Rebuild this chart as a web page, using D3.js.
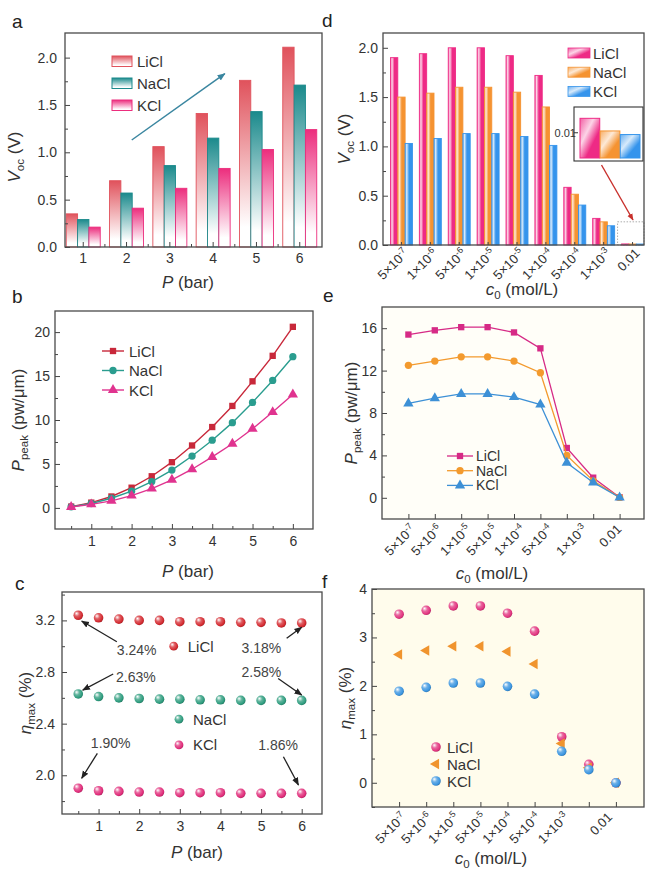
<!DOCTYPE html>
<html>
<head>
<meta charset="utf-8">
<script src="https://cdn.jsdelivr.net/npm/d3@7"></script>
<style>
  body { margin: 0; background: #fff; }
  text { font-family: "Liberation Sans", Arial, sans-serif; fill: #333; }
</style>
</head>
<body>
<svg id="fig"></svg>
<script>
// ================= DATA =================
const salts = ['LiCl', 'NaCl', 'KCl'];

// a: Voc vs pressure (bars)
const pressureBars = ['1', '2', '3', '4', '5', '6'];
const vocPressLiCl = [0.35, 0.70, 1.06, 1.41, 1.76, 2.11];
const vocPressNaCl = [0.29, 0.57, 0.86, 1.15, 1.43, 1.71];
const vocPressKCl  = [0.21, 0.41, 0.62, 0.83, 1.03, 1.24];

// b, c: pressure sweep
const pressures = [0.5, 1, 1.5, 2, 2.5, 3, 3.5, 4, 4.5, 5, 5.5, 6];
const peakPressLiCl = [0.15, 0.6, 1.3, 2.3, 3.6, 5.2, 7.1, 9.2, 11.6, 14.4, 17.3, 20.6];
const peakPressNaCl = [0.12, 0.5, 1.1, 1.9, 3.0, 4.3, 5.9, 7.7, 9.7, 12.0, 14.5, 17.2];
const peakPressKCl  = [0.10, 0.4, 0.8, 1.4, 2.2, 3.2, 4.4, 5.8, 7.3, 9.0, 10.9, 12.9];
const etaPressLiCl = [3.24, 3.22, 3.21, 3.20, 3.20, 3.19, 3.19, 3.19, 3.185, 3.185, 3.18, 3.18];
const etaPressNaCl = [2.63, 2.61, 2.60, 2.595, 2.59, 2.59, 2.585, 2.585, 2.58, 2.58, 2.58, 2.58];
const etaPressKCl  = [1.90, 1.88, 1.875, 1.87, 1.87, 1.865, 1.865, 1.865, 1.86, 1.86, 1.86, 1.86];

// d: Voc vs concentration (bars)
const concBars = ['5×10^-7', '1×10^-6', '5×10^-6', '1×10^-5', '5×10^-5', '1×10^-4', '5×10^-4', '1×10^-3', '0.01'];
const vocConcLiCl = [1.90, 1.94, 2.00, 2.00, 1.92, 1.72, 0.585, 0.27, 0.0108];
const vocConcNaCl = [1.50, 1.54, 1.60, 1.60, 1.55, 1.40, 0.515, 0.235, 0.0101];
const vocConcKCl  = [1.03, 1.08, 1.13, 1.13, 1.10, 1.01, 0.405, 0.195, 0.0099];

// e, f: concentration sweep (9 points, 8 tick labels as printed)
const concIndex = [0, 1, 2, 3, 4, 5, 6, 7, 8];
const concLabels = ['5×10^-7', '5×10^-6', '1×10^-5', '5×10^-5', '1×10^-4', '5×10^-4', '1×10^-3', '0.01'];
const concLabelAtE = [0, 1, 2.1, 3.1, 4.15, 5.2, 6.5, 7.8];
const concLabelAtF = [0, 0.95, 1.95, 2.95, 3.95, 4.95, 6, 7.6];
const peakConcLiCl = [15.4, 15.8, 16.1, 16.1, 15.6, 14.1, 4.7, 1.9, 0.05];
const peakConcNaCl = [12.5, 12.9, 13.3, 13.3, 12.9, 11.8, 4.0, 1.6, 0.04];
const peakConcKCl  = [8.9, 9.4, 9.8, 9.8, 9.5, 8.8, 3.3, 1.45, 0.03];
const etaConcLiCl = [3.48, 3.56, 3.65, 3.65, 3.50, 3.13, 0.95, 0.38, 0.0];
const etaConcNaCl = [2.65, 2.73, 2.82, 2.82, 2.71, 2.45, 0.81, 0.31, 0.0];
const etaConcKCl  = [1.89, 1.97, 2.06, 2.06, 1.99, 1.83, 0.65, 0.27, 0.0];

// ================= STYLE / LAYOUT =================
const colA = ['#e0525c', '#1b8a8c', '#ec2d7d'];
const colB = ['#c8283a', '#2a9d8f', '#e0338f'];
const colC = ['#d42a30', '#2e9c7e', '#e02c7a'];
const colD = ['#ee2a85', '#f59331', '#3594ec'];
const colE = ['#d62a86', '#f39a2e', '#3d90d6'];
const colF = ['#e2347f', '#f0942e', '#3b95e0'];

const boxA = {x0: 65, x1: 322, y0: 33, y1: 247};
const boxB = {x0: 55, x1: 313, y0: 311, y1: 529};
const boxC = {x0: 62, x1: 322, y0: 592, y1: 814};
const boxD = {x0: 383, x1: 644, y0: 33, y1: 245};
const boxE = {x0: 382, x1: 644, y0: 307, y1: 519};
const boxF = {x0: 372, x1: 644, y0: 589, y1: 807};

const svg = d3.select('#fig').attr('width', 645).attr('height', 871);
const defs = svg.append('defs');

//-------- gradients & markers --------
function vGrad(id, color) {            // colour at top fading to white (panel a)
  const g = defs.append('linearGradient').attr('id', id)
    .attr('x1', 0).attr('y1', 0).attr('x2', 0).attr('y2', 1);
  g.append('stop').attr('offset', '0%').attr('stop-color', color);
  g.append('stop').attr('offset', '88%').attr('stop-color', '#fff');
}
function gloss(id, color, diag) {      // glossy stripe (panel d)
  const g = defs.append('linearGradient').attr('id', id)
    .attr('x1', 0).attr('y1', 0).attr('x2', 1).attr('y2', diag ? 1 : 0);
  const light = d3.interpolateRgb(color, '#fff');
  g.append('stop').attr('offset', '0%').attr('stop-color', light(0.25));
  g.append('stop').attr('offset', diag ? '35%' : '22%').attr('stop-color', light(0.8));
  g.append('stop').attr('offset', diag ? '65%' : '55%').attr('stop-color', color);
  g.append('stop').attr('offset', '100%').attr('stop-color', color);
}
function sphere(id, color) {
  const g = defs.append('radialGradient').attr('id', id)
    .attr('cx', 0.4).attr('cy', 0.4).attr('r', 0.65).attr('fx', 0.32).attr('fy', 0.3);
  g.append('stop').attr('offset', '0%').attr('stop-color', '#fff');
  g.append('stop').attr('offset', '40%').attr('stop-color', d3.interpolateRgb(color, '#fff')(0.25));
  g.append('stop').attr('offset', '80%').attr('stop-color', color);
  g.append('stop').attr('offset', '100%').attr('stop-color', d3.color(color).darker(0.8));
}
function arrowHead(id, color, size) {
  defs.append('marker').attr('id', id).attr('viewBox', '0 0 10 10')
    .attr('refX', 9).attr('refY', 5).attr('markerUnits', 'userSpaceOnUse')
    .attr('markerWidth', size).attr('markerHeight', size).attr('orient', 'auto')
    .append('path').attr('d', 'M0,1L10,5L0,9z').attr('fill', color);
}
arrowHead('arrA', '#3a86a0', 8);
arrowHead('arrC', '#222', 8);
arrowHead('arrD', '#c8302c', 7);

//-------- helpers --------
function background(box, fill) {
  svg.append('rect').attr('x', box.x0).attr('y', box.y0)
    .attr('width', box.x1 - box.x0).attr('height', box.y1 - box.y0).attr('fill', fill);
}
function frame(box) {
  svg.append('rect').attr('x', box.x0).attr('y', box.y0)
    .attr('width', box.x1 - box.x0).attr('height', box.y1 - box.y0)
    .attr('fill', 'none').attr('stroke', '#4a4a4a').attr('stroke-width', 1.3);
}
function axis(kind, scale, box, major, minor, fmt, pad) {
  const gen = kind === 'left' ? d3.axisLeft : d3.axisBottom;
  const tr = kind === 'left' ? `translate(${box.x0},0)` : `translate(0,${box.y1})`;
  const g = svg.append('g').attr('transform', tr);
  g.append('g').call(gen(scale).tickValues(major).tickSize(-5).tickPadding(pad).tickFormat(fmt));
  if (minor) g.append('g').call(gen(scale).tickValues(minor).tickSize(-3).tickFormat(''));
  g.selectAll('.domain').remove();
  g.selectAll('line').attr('stroke', '#444');
  g.selectAll('text').attr('font-size', 14);
  return g;
}
function rich(parts, size) {
  const t = svg.append('text').attr('font-size', size).attr('text-anchor', 'middle');
  let low = false;
  parts.forEach(p => {
    const s = t.append('tspan').text(p.t);
    if (p.i) s.attr('font-style', 'italic');
    if (p.sub && !low) { s.attr('font-size', size * 0.68).attr('dy', size * 0.25); low = true; }
    else if (!p.sub && low) { s.attr('dy', -size * 0.25); low = false; }
  });
  return t;
}
function yTitle(parts, x, y) { rich(parts, 17).attr('transform', `translate(${x},${y}) rotate(-90)`); }
function xTitle(parts, x, y) { rich(parts, 17).attr('x', x).attr('y', y); }
function concTick(x, y, label) {
  const m = label.split('^');
  const t = svg.append('text').attr('text-anchor', 'end').attr('font-size', 13)
    .attr('transform', `translate(${x},${y}) rotate(-45)`);
  t.append('tspan').text(m[0]);
  if (m[1]) t.append('tspan').attr('font-size', 9).attr('dy', -5).text(m[1]);
}
function panelLabel(t, x, y) {
  svg.append('text').attr('x', x).attr('y', y).attr('font-size', 19).style('fill', '#222').text(t);
}
function legendText(t, x, y, size) {
  svg.append('text').attr('x', x).attr('y', y).attr('font-size', size || 15).text(t);
}
const symSquare = d3.symbol().type(d3.symbolSquare).size(40)();
const symCircle = d3.symbol().type(d3.symbolCircle).size(42)();
const symTri = d3.symbol().type(d3.symbolTriangle).size(46)();
const symbols = [symSquare, symCircle, symTri];

const Ptitle = [{t: 'P', i: true}, {t: ' (bar)'}];
const Ctitle = [{t: 'c', i: true}, {t: '0', sub: true}, {t: ' (mol/L)'}];
const Vtitle = [{t: 'V', i: true}, {t: 'oc', sub: true}, {t: ' (V)'}];
const PPtitle = [{t: 'P', i: true}, {t: 'peak', sub: true}, {t: '  (pw/μm)'}];
const Etitle = [{t: 'η', i: true}, {t: 'max', sub: true}, {t: ' (%)'}];

// ================= PANEL a =================
const xA = d3.scaleBand().domain(pressureBars).range([63, 320]).paddingInner(0.215).paddingOuter(0.075);
const sA = d3.scaleBand().domain(salts).range([0, xA.bandwidth()]);
const yA = d3.scaleLinear().domain([0, 2.26]).range([boxA.y1, boxA.y0]);
const aSeries = [vocPressLiCl, vocPressNaCl, vocPressKCl];
salts.forEach((s, k) => {
  vGrad('ga' + k, colA[k]);
  svg.append('g').selectAll('rect').data(aSeries[k]).join('rect')
    .attr('x', (v, i) => xA(pressureBars[i]) + sA(s))
    .attr('y', v => yA(v))
    .attr('width', sA.bandwidth())
    .attr('height', v => yA(0) - yA(v))
    .attr('fill', `url(#ga${k})`)
    .attr('stroke', colA[k]).attr('stroke-width', 0.9);
  // legend
  const ly = 61 + k * 22;
  svg.append('rect').attr('x', 112).attr('y', ly - 5).attr('width', 20).attr('height', 10.5)
    .attr('fill', `url(#ga${k})`).attr('stroke', colA[k]).attr('stroke-width', 1);
  legendText(s, 137, ly + 5.5);
});
axis('left', yA, boxA, [0, 0.5, 1, 1.5, 2], [0.25, 0.75, 1.25, 1.75], d3.format('.1f'), 8);
const aGaps = d3.pairs(pressureBars).map(([p, q]) => (xA(p) + xA.bandwidth() + xA(q)) / 2);
axis('bottom', xA, boxA, pressureBars, null, d => d, 6);
svg.append('g').selectAll('line').data(aGaps).join('line')
  .attr('x1', d => d).attr('x2', d => d).attr('y1', boxA.y1).attr('y2', boxA.y1 - 3).attr('stroke', '#444');
// trend arrow, in (group index, volts)
const aIdx = i => xA(pressureBars[0]) + xA.bandwidth() / 2 + i * xA.step();
svg.append('line').attr('x1', aIdx(1.12)).attr('y1', yA(1.13)).attr('x2', aIdx(3.27)).attr('y2', yA(1.83))
  .attr('stroke', '#3a86a0').attr('stroke-width', 1.5).attr('marker-end', 'url(#arrA)');
frame(boxA);
yTitle(Vtitle, 20, 157);
xTitle(Ptitle, 188, 288);
panelLabel('a', 12, 28);

// ================= PANEL b =================
const xB = d3.scaleLinear().domain([0.1, 6.5]).range([boxB.x0, boxB.x1]);
const yB = d3.scaleLinear().domain([-2.4, 22.4]).range([boxB.y1, boxB.y0]);
const bSeries = [peakPressLiCl, peakPressNaCl, peakPressKCl];
bSeries.forEach((vals, k) => {
  svg.append('path').datum(vals)
    .attr('d', d3.line().x((v, i) => xB(pressures[i])).y(v => yB(v)))
    .attr('fill', 'none').attr('stroke', colB[k]).attr('stroke-width', 1.4);
  svg.append('g').selectAll('path').data(vals).join('path')
    .attr('d', symbols[k]).attr('fill', colB[k])
    .attr('transform', (v, i) => `translate(${xB(pressures[i])},${yB(v)})`);
  const ly = 351 + k * 19.5;
  svg.append('line').attr('x1', 102).attr('x2', 124).attr('y1', ly).attr('y2', ly)
    .attr('stroke', colB[k]).attr('stroke-width', 1.4);
  svg.append('path').attr('d', symbols[k]).attr('fill', colB[k]).attr('transform', `translate(113,${ly})`);
  legendText(salts[k], 129, ly + 5.5);
});
axis('left', yB, boxB, [0, 5, 10, 15, 20], [2.5, 7.5, 12.5, 17.5], d3.format('d'), 5);
axis('bottom', xB, boxB, [1, 2, 3, 4, 5, 6], [0.5, 1.5, 2.5, 3.5, 4.5, 5.5], d3.format('d'), 7);
frame(boxB);
yTitle(PPtitle, 24, 420);
xTitle(Ptitle, 188, 577);
panelLabel('b', 12, 303);

// ================= PANEL c =================
const xC = d3.scaleLinear().domain([0.1, 6.5]).range([boxC.x0, boxC.x1]);
const yC = d3.scaleLinear().domain([1.7, 3.42]).range([boxC.y1, boxC.y0]);
const cSeries = [etaPressLiCl, etaPressNaCl, etaPressKCl];
cSeries.forEach((vals, k) => {
  sphere('sc' + k, colC[k]);
  svg.append('g').selectAll('circle').data(vals).join('circle')
    .attr('cx', (v, i) => xC(pressures[i])).attr('cy', v => yC(v)).attr('r', 4.8)
    .attr('fill', `url(#sc${k})`);
});
// legend (scattered as in the figure), in data units
const cLegendAt = [[2.85, 3.0], [2.98, 2.435], [2.98, 2.235]];
cLegendAt.forEach(([px, py], k) => {
  svg.append('circle').attr('cx', xC(px)).attr('cy', yC(py)).attr('r', 4.4).attr('fill', `url(#sc${k})`);
  legendText(salts[k], xC(px) + 14, yC(py) + 5.5);
});
// first/last value call-outs, in data units
const fmtPct = v => d3.format('.2f')(v) + '%';
const cNotes = [
  {v: etaPressLiCl[0], at: [1.45, 2.93], from: [1.45, 3.035], to: [0.585, 3.195]},
  {v: etaPressLiCl[11], at: [4.52, 2.947], from: [5.63, 3.061], to: [6.0, 3.147]},
  {v: etaPressNaCl[0], at: [1.43, 2.725], from: [1.36, 2.785], to: [0.61, 2.66]},
  {v: etaPressNaCl[11], at: [4.52, 2.762], from: [5.42, 2.75], to: [6.0, 2.622]},
  {v: etaPressKCl[0], at: [0.81, 2.209], from: [0.97, 2.17], to: [0.585, 1.977]},
  {v: etaPressKCl[11], at: [4.93, 2.196], from: [5.55, 2.144], to: [5.92, 1.925]}
];
cNotes.forEach(n => {
  svg.append('text').attr('x', xC(n.at[0])).attr('y', yC(n.at[1])).attr('font-size', 14)
    .style('fill', '#444').text(fmtPct(n.v));
  svg.append('line').attr('x1', xC(n.from[0])).attr('y1', yC(n.from[1]))
    .attr('x2', xC(n.to[0])).attr('y2', yC(n.to[1]))
    .attr('stroke', '#222').attr('stroke-width', 1.3).attr('marker-end', 'url(#arrC)');
});
axis('left', yC, boxC, [2.0, 2.4, 2.8, 3.2], [1.8, 2.2, 2.6, 3.0, 3.4], d3.format('.1f'), 7);
axis('bottom', xC, boxC, [1, 2, 3, 4, 5, 6], [0.5, 1.5, 2.5, 3.5, 4.5, 5.5], d3.format('d'), 7);
frame(boxC);
yTitle(Etitle, 31, 703);
xTitle(Ptitle, 197, 858);
panelLabel('c', 15, 590);

// ================= PANEL d =================
const xD = d3.scaleBand().domain(concBars).range([387, 647]).paddingInner(0.24).paddingOuter(0.12);
const sD = d3.scaleBand().domain(salts).range([0, xD.bandwidth()]);
const yD = d3.scaleLinear().domain([0, 2.15]).range([boxD.y1, boxD.y0]);
const dSeries = [vocConcLiCl, vocConcNaCl, vocConcKCl];
salts.forEach((s, k) => {
  gloss('gd' + k, colD[k], false);
  gloss('gdl' + k, colD[k], true);
  svg.append('g').selectAll('rect').data(dSeries[k]).join('rect')
    .attr('x', (v, i) => xD(concBars[i]) + sD(s))
    .attr('y', v => yD(v))
    .attr('width', sD.bandwidth())
    .attr('height', v => yD(0) - yD(v))
    .attr('fill', `url(#gd${k})`)
    .attr('stroke', colD[k]).attr('stroke-width', 0.9);
  const ly = 53 + k * 19.2;
  svg.append('rect').attr('x', 568).attr('y', ly - 5).attr('width', 22).attr('height', 10)
    .attr('fill', `url(#gdl${k})`).attr('stroke', colD[k]).attr('stroke-width', 0.8);
  legendText(s, 593, ly + 5.5);
});
axis('left', yD, boxD, [0, 0.5, 1, 1.5, 2], [0.25, 0.75, 1.25, 1.75], d3.format('.1f'), 5);
svg.append('g').selectAll('line').data(concBars).join('line')
  .attr('x1', d => xD(d) + xD.bandwidth() / 2).attr('x2', d => xD(d) + xD.bandwidth() / 2)
  .attr('y1', boxD.y1).attr('y2', boxD.y1 - 3).attr('stroke', '#444');
concBars.forEach(c => concTick(xD(c) + xD.bandwidth() / 2 + 8, boxD.y1 + 9, c));
// zoom box around the 0.01 group
const last = concBars[concBars.length - 1];
svg.append('rect').attr('x', xD(last) - 4).attr('y', yD(0.235))
  .attr('width', boxD.x1 - xD(last) + 4).attr('height', yD(0) - yD(0.235))
  .attr('fill', 'none').attr('stroke', '#999').attr('stroke-width', 0.8).attr('stroke-dasharray', '1.5,1.5');
// inset: enlarged 0.01 bars
const inset = {x0: 574, x1: 643, y0: 107, y1: 161};
svg.append('rect').attr('x', inset.x0).attr('y', inset.y0)
  .attr('width', inset.x1 - inset.x0).attr('height', inset.y1 - inset.y0)
  .attr('fill', '#fff').attr('stroke', '#333').attr('stroke-width', 1.1);
const xI = d3.scaleBand().domain(salts).range([580, 640]).paddingInner(0.02);
const yI = d3.scaleLinear().domain([0.0086, 0.0114]).range([158, 107.5]);
salts.forEach((s, k) => {
  const v = dSeries[k][concBars.length - 1];
  svg.append('rect').attr('x', xI(s)).attr('y', yI(v)).attr('width', xI.bandwidth())
    .attr('height', yI(0.0086) - yI(v))
    .attr('fill', `url(#gdl${k})`).attr('stroke', colD[k]).attr('stroke-width', 1);
});
svg.append('line').attr('x1', inset.x0).attr('x2', inset.x0 + 4).attr('y1', yI(0.01)).attr('y2', yI(0.01)).attr('stroke', '#333');
svg.append('text').attr('x', inset.x0 + 2).attr('y', yI(0.01) + 4).attr('text-anchor', 'end')
  .attr('font-size', 11).text('0.01');
svg.append('line').attr('x1', 601.5).attr('y1', 165).attr('x2', 633).attr('y2', 220)
  .attr('stroke', '#c8302c').attr('stroke-width', 1.4).attr('marker-end', 'url(#arrD)');
frame(boxD);
yTitle(Vtitle, 350, 139);
xTitle(Ctitle, 522, 295);
panelLabel('d', 322, 27);

// ================= PANEL e =================
background(boxE, '#fffef8');
const xE = d3.scaleLinear().domain([-1, 9]).range([boxE.x0, 646]);
const yE = d3.scaleLinear().domain([-2, 18]).range([boxE.y1, boxE.y0]);
const eSeries = [peakConcLiCl, peakConcNaCl, peakConcKCl];
eSeries.forEach((vals, k) => {
  svg.append('path').datum(vals)
    .attr('d', d3.line().x((v, i) => xE(concIndex[i])).y(v => yE(v)))
    .attr('fill', 'none').attr('stroke', colE[k]).attr('stroke-width', 1.3);
  svg.append('g').selectAll('path').data(vals).join('path')
    .attr('d', symbols[k]).attr('fill', colE[k])
    .attr('transform', (v, i) => `translate(${xE(concIndex[i])},${yE(v)})`);
  const ly = 456 + k * 14.7;
  svg.append('line').attr('x1', 447).attr('x2', 473).attr('y1', ly).attr('y2', ly)
    .attr('stroke', colE[k]).attr('stroke-width', 1.3);
  svg.append('path').attr('d', symbols[k]).attr('fill', colE[k]).attr('transform', `translate(460,${ly})`);
  legendText(salts[k], 476, ly + 5, 14);
});
axis('left', yE, boxE, [0, 4, 8, 12, 16], [2, 6, 10, 14], d3.format('d'), 5);
axis('bottom', xE, boxE, concIndex, null, '', 0);
concLabels.forEach((c, i) => concTick(xE(concLabelAtE[i]) + 8, boxE.y1 + 11, c));
frame(boxE);
yTitle(PPtitle, 357, 413);
xTitle(Ctitle, 492, 579);
panelLabel('e', 323, 302);

// ================= PANEL f =================
background(boxF, '#fffcec');
const xF = d3.scaleLinear().domain([-1, 9]).range([boxF.x0, 643]);
const yF = d3.scaleLinear().domain([-0.5, 4]).range([boxF.y1, boxF.y0]);
const fSeries = [etaConcLiCl, etaConcNaCl, etaConcKCl];
const leftTri = d3.symbol().type(d3.symbolTriangle).size(48)();
fSeries.forEach((vals, k) => {
  sphere('sf' + k, colF[k]);
  const mark = (sel, k) => k === 1
    ? sel.append('path').attr('d', leftTri).attr('fill', colF[1])
    : sel.append('circle').attr('r', 4.8).attr('fill', `url(#sf${k})`);
  vals.forEach((v, i) => {
    const g = svg.append('g').attr('transform', `translate(${xF(concIndex[i])},${yF(v)})` + (k === 1 ? ' rotate(-90)' : ''));
    mark(g, k);
  });
  const ly = 747 + k * 17;
  const lg = svg.append('g').attr('transform', `translate(436,${ly})` + (k === 1 ? ' rotate(-90)' : ''));
  mark(lg, k);
  legendText(salts[k], 447, ly + 5.5);
});
axis('left', yF, boxF, [0, 1, 2, 3, 4], [-0.5, 0.5, 1.5, 2.5, 3.5], d3.format('d'), 5);
axis('bottom', xF, boxF, concIndex, null, '', 0);
concLabels.forEach((c, i) => concTick(xF(concLabelAtF[i]) + 8, boxF.y1 + 11, c));
frame(boxF);
yTitle(Etitle, 351, 698);
xTitle(Ctitle, 491, 864);
panelLabel('f', 322, 588);
</script>
</body>
</html>
